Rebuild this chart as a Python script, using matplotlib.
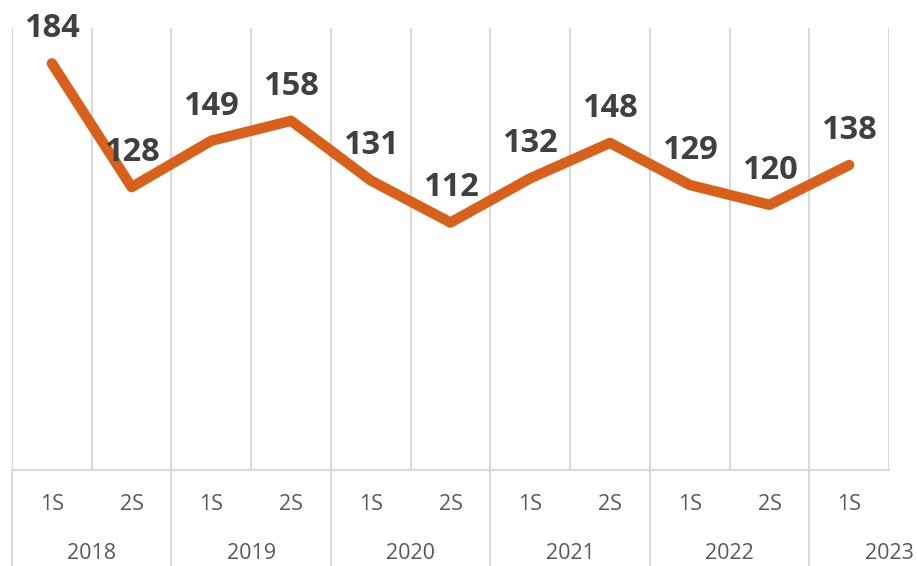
import matplotlib.pyplot as plt
import matplotlib.transforms as mtransforms

semesters = ["1S", "2S", "1S", "2S", "1S", "2S", "1S", "2S", "1S", "2S", "1S"]
years = ["2018", "2019", "2020", "2021", "2022", "2023"]
values = [184, 128, 149, 158, 131, 112, 132, 148, 129, 120, 138]

line_color = "#D9601A"
grid_color = "#D9D9D9"
label_color = "#404040"
tick_color = "#595959"

fig = plt.figure(figsize=(9.17, 5.66), dpi=100)
ax = fig.add_axes([0.0131, 0.1696, 0.9564, 0.7809])

x = list(range(len(values)))
ax.plot(x, values, color=line_color, linewidth=7.5,
        solid_capstyle="round", solid_joinstyle="round", zorder=3)

for xi, v in zip(x, values):
    ax.annotate(str(v), (xi, v), xytext=(0, 13), textcoords="offset points",
                ha="center", va="bottom", fontsize=23.5, fontweight="bold",
                color=label_color, family="Open Sans", zorder=4)

ax.set_xlim(-0.5, len(values) - 0.5)
ax.set_ylim(0, 200)

# vertical gridlines on category boundaries
for b in range(len(values) + 1):
    ax.axvline(b - 0.5, color=grid_color, linewidth=1.5, zorder=1)

for s in ["top", "right", "left"]:
    ax.spines[s].set_visible(False)
ax.spines["bottom"].set_color(grid_color)
ax.spines["bottom"].set_linewidth(1.5)
ax.set_xticks([])
ax.set_yticks([])

trans = mtransforms.blended_transform_factory(ax.transData, ax.transAxes)

# semester labels
for xi, s in zip(x, semesters):
    ax.text(xi, -0.079, s, transform=trans, ha="center", va="center",
            fontsize=15.5, color=tick_color, family="Open Sans")

# year labels and separators below the axis
for i, yr in enumerate(years):
    start = 2 * i - 0.5
    center = min(2 * i + 0.5, len(values) - 0.5)
    ax.text(center, -0.19, yr, transform=trans, ha="center", va="center",
            fontsize=15.5, color=tick_color, family="Open Sans", clip_on=False)
    ax.plot([start, start], [0, -0.22], transform=trans, color=grid_color,
            linewidth=1.5, clip_on=False)

fig.savefig("out.png", dpi=100)
